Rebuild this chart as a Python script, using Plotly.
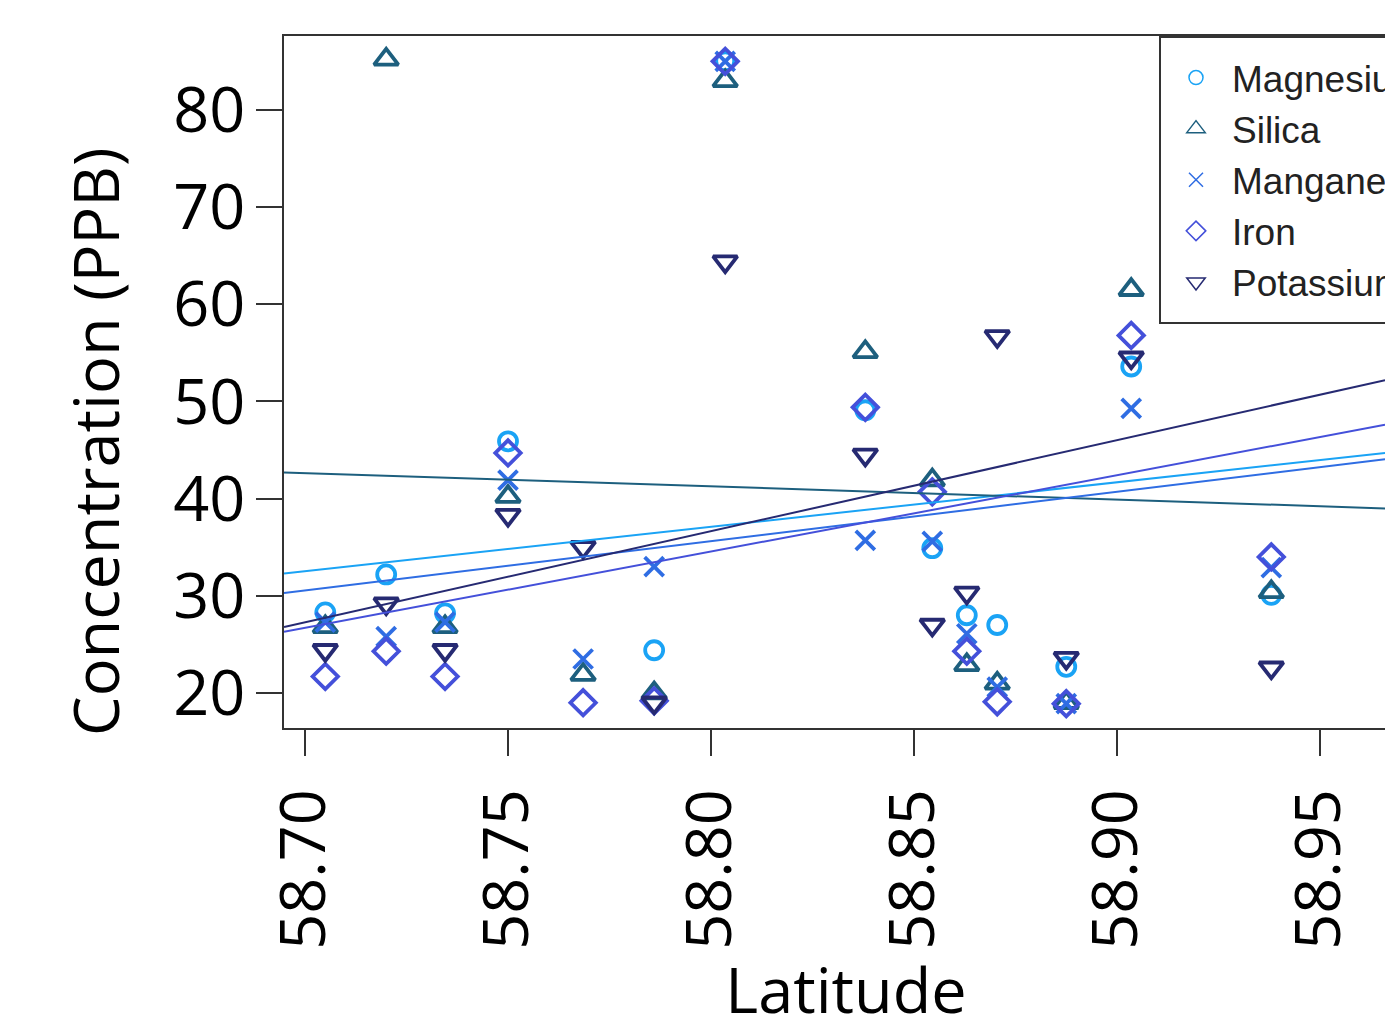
import plotly.graph_objects as go

# ---- data ----
latitude = [58.705, 58.720, 58.7345, 58.750, 58.7685, 58.786, 58.8035,
            58.838, 58.8545, 58.863, 58.8705, 58.8875, 58.9035, 58.938]

magnesium = [28.3, 32.2, 28.2, 45.9, None, 24.4, 85.0, 49.1, 34.9, 28.0, 27.0, 22.7, 53.6, 30.1]
silica    = [26.8, 85.2, 26.8, 40.2, 21.9, 20.0, 83.0, 55.1, 41.9, 22.9, 21.0, 19.0, 61.5, 30.4]
manganese = [27.3, 25.8, 27.3, 41.9, 23.5, 33.0, 85.0, 35.7, 35.6, 26.1, 20.6, 18.9, 49.3, 32.9]
iron      = [21.7, 24.3, 21.7, 44.7, 19.0, 19.2, 85.0, 49.4, 40.7, 24.3, 19.1, 18.9, 56.8, 34.0]
potassium = [24.4, 29.2, 24.4, 38.3, 35.0, 19.0, 64.4, 44.5, 27.0, 30.3, 56.7, 23.6, 54.5, 22.6]

# fitted trend lines: values read at two latitudes
trend_lat = [58.69483, 58.96601]
trend_magnesium = [32.3, 44.7]
trend_silica = [42.7, 39.0]
trend_manganese = [30.3, 44.05]
trend_iron = [26.3, 47.6]
trend_potassium = [26.8, 52.2]

x_range = [58.69483, 58.97167]
y_range = [16.40, 87.61]
x_ticks = [58.70, 58.75, 58.80, 58.85, 58.90, 58.95]
x_tick_labels = ["58.70", "58.75", "58.80", "58.85", "58.90", "58.95"]
y_ticks = [20, 30, 40, 50, 60, 70, 80]
y_tick_labels = ["20", "30", "40", "50", "60", "70", "80"]

series = [
    ("Magnesium", magnesium, trend_magnesium, "#1AA3F5", "circle-open", 18, 14),
    ("Silica", silica, trend_silica, "#1D5F7E", "triangle-up-open", 21, 16),
    ("Manganese", manganese, trend_manganese, "#2F6DE3", "x-thin-open", 19, 14),
    ("Iron", iron, trend_iron, "#4450DA", "diamond-open", 19.5, 15),
    ("Potassium", potassium, trend_potassium, "#262A72", "triangle-down-open", 21, 16),
]

fig = go.Figure()

for name, vals, trend, color, symbol, size, lsize in series:
    fig.add_trace(go.Scatter(
        x=latitude, y=vals, mode="markers", name=name, showlegend=False,
        marker=dict(symbol=symbol, size=size, color=color,
                    line=dict(color=color, width=3.8)),
        cliponaxis=False,
    ))

for name, vals, trend, color, symbol, size, lsize in series:
    fig.add_trace(go.Scatter(
        x=trend_lat, y=trend, mode="lines", name=name + " trend",
        showlegend=False, line=dict(color=color, width=2),
    ))

# legend entries (thin symbols, as in the reference legend)
for name, vals, trend, color, symbol, size, lsize in series:
    fig.add_trace(go.Scatter(
        x=[None], y=[None], mode="markers", name=name, showlegend=True,
        marker=dict(symbol=symbol, size=lsize, color=color,
                    line=dict(color=color, width=1.5)),
    ))

# figure is slightly wider than the window: the right part is cut off as in the reference
W, H = 1408, 1031
L, T, B, R = 284, 36, 303, 0
pw, ph = W - L - R, H - T - B

def px2paper_x(px):
    return (px - L) / pw

def px2paper_y(py):
    return (H - B - py) / ph

tickfont = dict(family="Open Sans", size=63, color="black")

fig.update_layout(
    width=W, height=H,
    margin=dict(l=L, r=R, t=T, b=B, autoexpand=False),
    plot_bgcolor="white", paper_bgcolor="white",
    xaxis=dict(
        range=x_range,
        tickvals=x_ticks, ticktext=x_tick_labels, tickangle=-90,
        ticks="outside", ticklen=26, tickwidth=2, tickcolor="#333",
        showline=True, linewidth=2, linecolor="#333", mirror=True,
        showgrid=False, zeroline=False, tickfont=tickfont,
        ticklabelstandoff=8,
        title=dict(text="Latitude", font=dict(family="Open Sans", size=63, color="black"),
                   standoff=30),
    ),
    yaxis=dict(
        range=y_range,
        tickvals=y_ticks, ticktext=y_tick_labels,
        ticks="outside", ticklen=26, tickwidth=2, tickcolor="#333",
        showline=True, linewidth=2, linecolor="#333", mirror=False,
        showgrid=False, zeroline=False, tickfont=tickfont,
        ticklabelstandoff=-2,
    ),
    legend=dict(
        x=px2paper_x(1160), xanchor="left",
        y=px2paper_y(47), yanchor="top",
        bgcolor="rgba(0,0,0,0)", borderwidth=0,
        font=dict(family="Liberation Sans", size=37, color="#222"),
        itemwidth=62, tracegroupgap=0,
    ),
    shapes=[
        dict(type="rect", xref="paper", yref="paper",
             x0=px2paper_x(1160), x1=1.05, y0=px2paper_y(323), y1=px2paper_y(37),
             line=dict(color="#333", width=2), fillcolor="white", layer="above"),
    ],
    annotations=[
        dict(text="Concentration (PPB)", xref="paper", yref="paper",
             x=px2paper_x(95), y=px2paper_y(441), xanchor="center", yanchor="middle",
             textangle=-90, showarrow=False,
             font=dict(family="Open Sans", size=63, color="black")),
    ],
)

fig.write_html(
    "out.html",
    config={"displayModeBar": False},
    post_script="document.documentElement.style.overflow='hidden';"
                "document.body.style.margin='0';document.body.style.overflow='hidden';",
)
